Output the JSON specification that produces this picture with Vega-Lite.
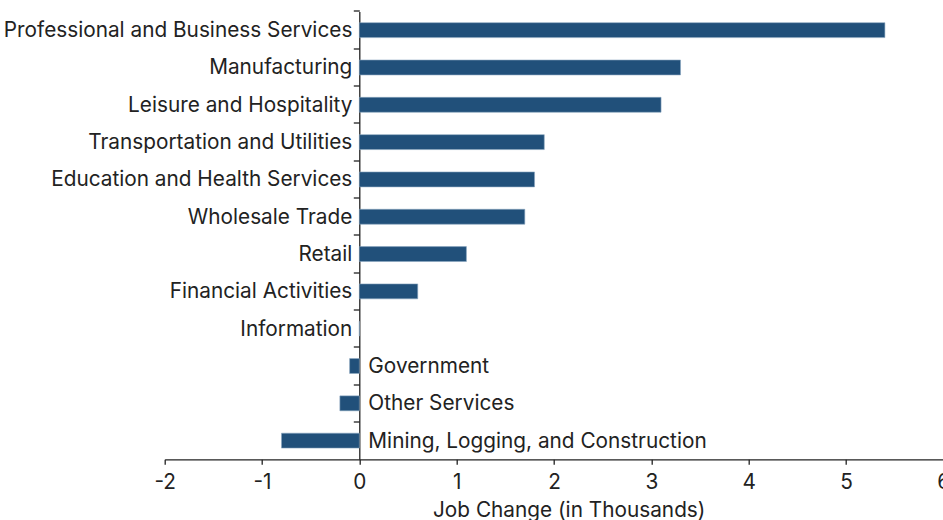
{
  "$schema": "https://vega.github.io/schema/vega-lite/v6.json",
  "autosize": {"type": "none"},
  "padding": {"left": 164.7, "top": 11.5, "right": 0, "bottom": 60.7},
  "width": 778.6,
  "height": 447.8,
  "background": "white",
  "config": {
    "view": {"stroke": null},
    "font": "Inter",
    "axis": {"labelFont": "Inter", "titleFont": "Inter"}
  },
  "data": {
    "values": [
      {"sector": "Professional and Business Services", "label": "Professional and Business Services", "change": 5.4},
      {"sector": "Manufacturing", "label": "Manufacturing\u00a0", "change": 3.3},
      {"sector": "Leisure and Hospitality", "label": "Leisure and Hospitality", "change": 3.1},
      {"sector": "Transportation and Utilities", "label": "Transportation and Utilities", "change": 1.9},
      {"sector": "Education and Health Services", "label": "Education and Health Services", "change": 1.8},
      {"sector": "Wholesale Trade", "label": "Wholesale Trade\u00a0", "change": 1.7},
      {"sector": "Retail", "label": "Retail", "change": 1.1},
      {"sector": "Financial Activities", "label": "Financial Activities\u00a0", "change": 0.6},
      {"sector": "Information", "label": "Information\u00a0", "change": 0.0},
      {"sector": "Government", "label": "Government", "change": -0.1},
      {"sector": "Other Services", "label": "Other Services", "change": -0.2},
      {"sector": "Mining, Logging, and Construction", "label": "Mining, Logging, and Construction", "change": -0.8}
    ]
  },
  "encoding": {
    "y": {
      "field": "sector",
      "type": "nominal",
      "sort": null,
      "scale": {"paddingInner": 0, "paddingOuter": 0},
      "axis": {
        "title": null,
        "labels": false,
        "offset": -194.6,
        "bandPosition": 0,
        "domainColor": "#222222",
        "tickColor": "#222222",
        "tickSize": 6,
        "domainWidth": 1.3,
        "tickWidth": 1.3
      }
    }
  },
  "layer": [
    {
      "mark": {"type": "bar", "height": {"band": 0.4}, "color": "#21507a", "stroke": "#8aa6c0", "strokeWidth": 0.6},
      "encoding": {
        "x": {
          "field": "change",
          "type": "quantitative",
          "scale": {"domain": [-2, 6], "nice": false, "zero": false},
          "axis": {
            "title": "Job Change (in Thousands)",
            "values": [-2, -1, 0, 1, 2, 3, 4, 5, 6],
            "labelExpr": "'' + datum.value",
            "labelFlush": false,
            "labelOverlap": false,
            "grid": false,
            "tickSize": 5,
            "labelFontSize": 20.8,
            "labelColor": "#222222",
            "labelPadding": 8,
            "domainColor": "#222222",
            "tickColor": "#222222",
            "domainWidth": 1.3,
            "tickWidth": 1.3,
            "titleFontSize": 20.8,
            "titleFontWeight": "normal",
            "titleColor": "#222222",
            "titlePadding": 8,
            "titleX": 404
          }
        }
      }
    },
    {
      "transform": [{"filter": "datum.change >= 0"}],
      "mark": {"type": "text", "align": "right", "baseline": "middle", "dx": -7, "dy": 1, "fontSize": 20.8, "color": "#222222"},
      "encoding": {
        "x": {"datum": 0},
        "text": {"field": "label"}
      }
    },
    {
      "transform": [{"filter": "datum.change < 0"}],
      "mark": {"type": "text", "align": "left", "baseline": "middle", "dx": 9, "dy": 1, "fontSize": 20.8, "color": "#222222"},
      "encoding": {
        "x": {"datum": 0},
        "text": {"field": "label"}
      }
    }
  ]
}
